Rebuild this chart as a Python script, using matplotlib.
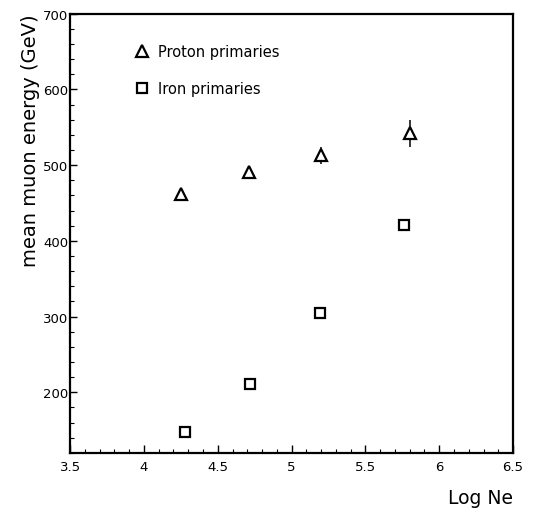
import matplotlib
matplotlib.use("Agg")
import matplotlib.pyplot as plt
from matplotlib.ticker import MultipleLocator

# mean muon energy vs shower size
proton_logne = [4.25, 4.71, 5.20, 5.80]
proton_energy = [462, 491, 513, 542]
proton_err = [0, 0, 11, 18]

iron_logne = [4.28, 4.72, 5.19, 5.76]
iron_energy = [147, 211, 305, 421]

xticks = [3.5, 4, 4.5, 5, 5.5, 6, 6.5]
xticklabels = ["3.5", "4", "4.5", "5", "5.5", "6", "6.5"]
yticks = [200, 300, 400, 500, 600, 700]

fig = plt.figure(figsize=(5.35, 5.10), dpi=100)
ax = fig.add_axes([0.131, 0.110, 0.828, 0.861])

p = ax.errorbar(proton_logne, proton_energy, yerr=proton_err, fmt='^', color='black',
                mfc='white', mec='black', ms=8, mew=1.6, elinewidth=1.1, capsize=0)
fe, = ax.plot(iron_logne, iron_energy, 's', color='black', mfc='white', mec='black',
              ms=7.5, mew=1.6)

ax.set_xlim(3.5, 6.5)
ax.set_ylim(120, 700)
ax.set_xticks(xticks)
ax.set_xticklabels(xticklabels)
ax.set_yticks(yticks)
ax.xaxis.set_minor_locator(MultipleLocator(0.1))
ax.yaxis.set_minor_locator(MultipleLocator(20))

ax.tick_params(which='both', direction='in', top=False, right=False, labelsize=9.5)
ax.tick_params(axis='y', which='major', length=5, width=1, pad=1.5)
ax.tick_params(axis='x', which='major', length=6, width=1, pad=5)
ax.tick_params(which='minor', length=3, width=0.8)

for s in ax.spines.values():
    s.set_linewidth(1.6)

ax.set_ylabel('mean muon energy (GeV)', fontsize=14, loc='top', labelpad=2)
ax.set_xlabel('Log Ne', fontsize=13.5, loc='right', labelpad=11)

# proton handle without the error bar
ph, = ax.plot([], [], '^', mfc='white', mec='black', ms=8, mew=1.6)
ax.legend([ph, fe], ['Proton primaries', 'Iron primaries'], loc='upper left',
          bbox_to_anchor=(0.252, 0.912), bbox_transform=fig.transFigure,
          frameon=False, fontsize=10.5, handlelength=1.0, handletextpad=0.6,
          labelspacing=1.5, borderpad=0, borderaxespad=0, numpoints=1)

fig.savefig('out.png', dpi=100)
